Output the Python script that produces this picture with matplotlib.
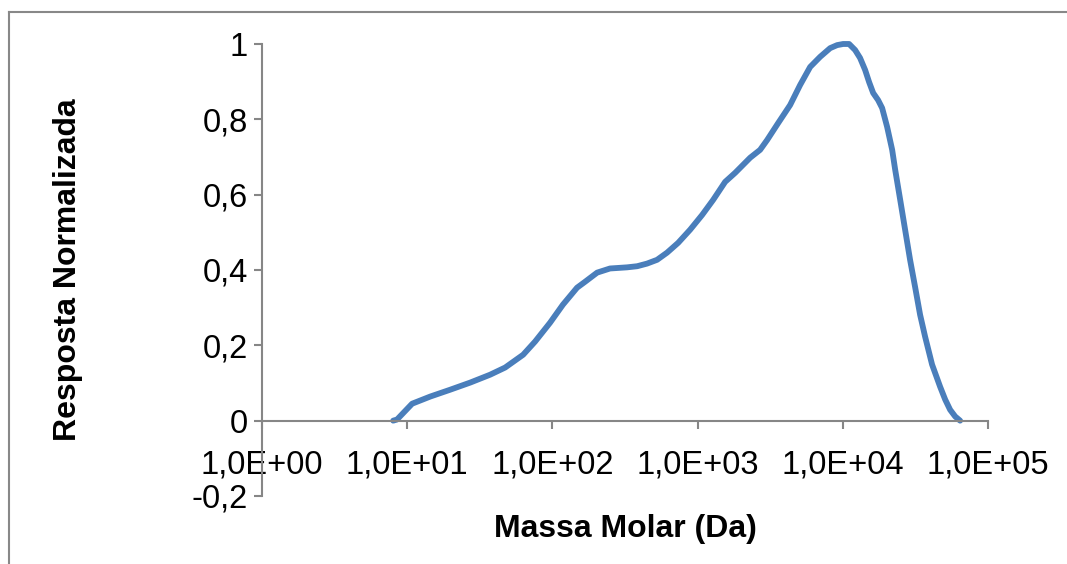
import matplotlib.pyplot as plt
from matplotlib.lines import Line2D

plt.rcParams['font.family'] = ['Liberation Sans', 'DejaVu Sans']

# Molar mass (Da) and normalized response
massa = [8.0, 8.5, 10.8, 14.4, 19.7, 27.1, 37.2, 47.2, 62.8, 75.9, 96.2,
         118, 147.6, 168, 203, 249, 326, 383, 448, 525, 615, 733, 887, 1072,
         1277, 1545, 1811, 2296, 2690, 3006, 3580, 4330, 5070, 5945, 6970,
         8166, 9120, 10030, 11030, 12130, 13120, 14220, 15140, 16150, 17470,
         18620, 20150, 21830, 22900, 24800, 26800, 29000, 31400, 34000,
         36800, 41100, 46700, 50600, 54700, 59300, 64100]
resposta = [0.0, 0.003, 0.045, 0.064, 0.082, 0.101, 0.122, 0.141, 0.175,
            0.210, 0.260, 0.308, 0.353, 0.369, 0.393, 0.404, 0.407, 0.410,
            0.417, 0.427, 0.446, 0.472, 0.507, 0.546, 0.586, 0.634, 0.658,
            0.698, 0.719, 0.745, 0.790, 0.838, 0.891, 0.939, 0.966, 0.989,
            0.997, 1.0, 1.0, 0.984, 0.963, 0.931, 0.899, 0.870, 0.851, 0.830,
            0.780, 0.719, 0.666, 0.586, 0.507, 0.427, 0.355, 0.281, 0.223,
            0.149, 0.090, 0.056, 0.029, 0.011, 0.0]

x_ticks = [1e0, 1e1, 1e2, 1e3, 1e4, 1e5]
x_labels = ['1,0E+00', '1,0E+01', '1,0E+02', '1,0E+03', '1,0E+04', '1,0E+05']
y_ticks = [-0.2, 0, 0.2, 0.4, 0.6, 0.8, 1]
y_labels = ['-0,2', '0', '0,2', '0,4', '0,6', '0,8', '1']

axis_gray = '#868686'

fig = plt.figure(figsize=(10.67, 5.64), dpi=100)
ax = fig.add_axes([0.2456, 0.1206, 0.6805, 0.8014])

ax.plot(massa, resposta, color='#4A7EBB', lw=4.2, solid_capstyle='round',
        solid_joinstyle='round', clip_on=False)

ax.set_xscale('log')
ax.set_xlim(1, 1e5)
ax.set_ylim(-0.2, 1)
ax.minorticks_off()
ax.set_xticks(x_ticks)
ax.set_xticklabels(x_labels)
ax.set_yticks(y_ticks)
ax.set_yticklabels(y_labels)

# Excel-style axes: x axis crosses at y = 0
ax.spines['top'].set_visible(False)
ax.spines['right'].set_visible(False)
ax.spines['bottom'].set_position(('data', 0))
for s in ('left', 'bottom'):
    ax.spines[s].set_color(axis_gray)
    ax.spines[s].set_linewidth(1.5)

ax.tick_params(axis='both', direction='out', color=axis_gray, width=1.5,
               length=6, labelsize=23.5, labelcolor='black')
ax.tick_params(axis='x', pad=15)
ax.tick_params(axis='y', pad=4)

ax.set_xlabel('Massa Molar (Da)', fontsize=23, fontweight='bold', labelpad=0)
ax.xaxis.set_label_coords(0.5, -0.04)
ax.set_ylabel('Resposta Normalizada', fontsize=23, fontweight='bold')
ax.yaxis.set_label_coords(-0.247, 0.5)

# chart area border (top and left edges visible)
fig.add_artist(Line2D([9 / 1067, 9 / 1067], [0, 1 - 12 / 564],
                      transform=fig.transFigure, color='#888888', lw=1.5))
fig.add_artist(Line2D([9 / 1067, 1], [1 - 12 / 564, 1 - 12 / 564],
                      transform=fig.transFigure, color='#888888', lw=1.5))

fig.savefig('out.png', dpi=100)
